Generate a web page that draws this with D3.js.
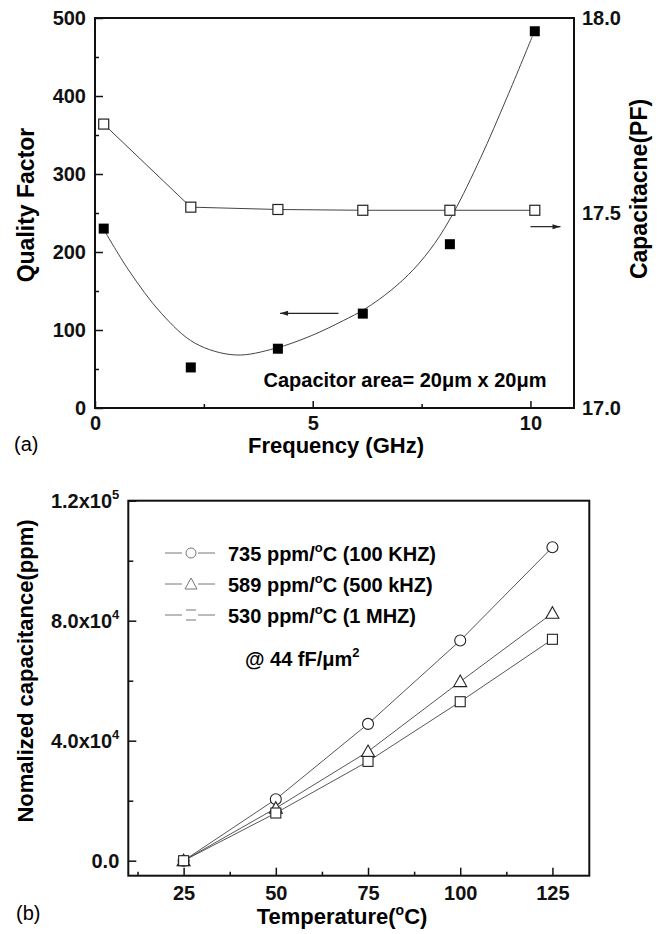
<!DOCTYPE html>
<html><head><meta charset="utf-8">
<script src="https://cdn.jsdelivr.net/npm/d3@7"></script>
<style>body{margin:0;background:#fff} text{font-family:"Liberation Sans",Arial,Helvetica,sans-serif}</style>
</head><body><svg id="c" width="659" height="934"></svg>
<script>
// ---------- Data (a) ----------
const freq = [0.2, 2.2, 4.2, 6.15, 8.15, 10.1];
const qualityFactor = [230, 52, 76, 121, 210, 483];
const capacitance = [17.728, 17.515, 17.509, 17.507, 17.507, 17.507];
// fitted curve through quality factor
const fitFreq = [0.19, 0.77, 1.53, 2.30, 3.22, 4.14, 4.98, 5.70, 6.20, 6.80, 7.32, 7.80, 8.24, 8.85, 9.46, 10.04];
const fitQ    = [230, 177, 121, 83, 68, 76.5, 93, 112, 127, 151, 178, 211, 251, 320, 398, 476];
const freqTicks = [0, 5, 10], freqMinor = [2.5, 7.5];
const qTicks = [0, 100, 200, 300, 400, 500], qMinor = [50, 150, 250, 350, 450];
const capTicks = [17.0, 17.5, 18.0];

// ---------- Data (b) ----------
const temps = [25, 50, 75, 100, 125];
const cap100k = [0, 20500, 45600, 73400, 104500];
const cap500k = [0, 17500, 36400, 59700, 82500];
const cap1M   = [0, 15900, 33100, 53000, 73800];
const tempTicks = [25, 50, 75, 100, 125], tempMinor = [12.5, 37.5, 62.5, 87.5, 112.5];
const normTicks = [0, 40000, 80000, 120000], normMinor = [20000, 60000, 100000];
const normTickMant = ["0.0", "4.0x10", "8.0x10", "1.2x10"];
const normTickExp = ["", "4", "4", "5"];
const legendPrefix = ["735 ppm/", "589 ppm/", "530 ppm/"];
const legendSuffix = ["C (100 KHZ)", "C (500 kHZ)", "C (1 MHZ)"];

const svg = d3.select("#c");
svg.append("rect").attr("width",659).attr("height",934).attr("fill","#fff");
const LINE = "#444";

function styleAxis(g, fs){
  g.select(".domain").remove();
  g.selectAll(".tick line").attr("stroke","#111").attr("stroke-width",1.5);
  g.selectAll("text").attr("font-size",fs).attr("font-weight","bold").attr("fill","#111")
   .attr("font-family",'"Liberation Sans",Arial,sans-serif');
}

// ================= Chart (a) =================
const xA = d3.scaleLinear().domain([0, 11]).range([95, 574]);
const yQ = d3.scaleLinear().domain([0, 500]).range([408, 18]);
const yC = d3.scaleLinear().domain([17, 18]).range([408, 18]);

let g;
g = svg.append("g").attr("transform","translate(0,408)")
  .call(d3.axisBottom(xA).tickValues(freqTicks).tickSize(-7).tickPadding(8).tickFormat(d3.format("d")));
styleAxis(g,20);
g = svg.append("g").attr("transform","translate(0,408)")
  .call(d3.axisBottom(xA).tickValues(freqMinor).tickSize(-4).tickFormat(""));
styleAxis(g,20);
g = svg.append("g").attr("transform","translate(95,0)")
  .call(d3.axisLeft(yQ).tickValues(qTicks).tickSize(-8).tickPadding(9).tickFormat(d3.format("d")));
styleAxis(g,20);
g = svg.append("g").attr("transform","translate(95,0)")
  .call(d3.axisLeft(yQ).tickValues(qMinor).tickSize(-4).tickFormat(""));
styleAxis(g,20);
g = svg.append("g").attr("transform","translate(574,0)")
  .call(d3.axisRight(yC).tickValues(capTicks).tickSize(0).tickPadding(8).tickFormat(d3.format(".1f")));
styleAxis(g,20);

svg.append("rect").attr("x",xA(0)).attr("y",yQ(500)).attr("width",xA(11)-xA(0)).attr("height",yQ(0)-yQ(500))
  .attr("fill","none").attr("stroke","#111").attr("stroke-width",2);

// capacitance line
svg.append("path").datum(freq.map((f,i)=>[f,capacitance[i]]))
  .attr("d", d3.line().x(d=>xA(d[0])).y(d=>yC(d[1])))
  .attr("fill","none").attr("stroke",LINE).attr("stroke-width",1);
// fit curve
svg.append("path").datum(fitFreq.map((f,i)=>[f,fitQ[i]]))
  .attr("d", d3.line().x(d=>xA(d[0])).y(d=>yQ(d[1])).curve(d3.curveCatmullRom.alpha(0.5)))
  .attr("fill","none").attr("stroke",LINE).attr("stroke-width",1);
// open squares
svg.selectAll(".cs").data(freq.map((f,i)=>[f,capacitance[i]])).enter().append("rect")
  .attr("x",d=>xA(d[0])-5).attr("y",d=>yC(d[1])-5).attr("width",10).attr("height",10)
  .attr("fill","#fff").attr("stroke","#222").attr("stroke-width",1.2);
// filled squares
svg.selectAll(".qs").data(freq.map((f,i)=>[f,qualityFactor[i]])).enter().append("rect")
  .attr("x",d=>xA(d[0])-5).attr("y",d=>yQ(d[1])-5).attr("width",10).attr("height",10)
  .attr("fill","#000");

// arrows
function arrow(x1,y1,x2,y2){
  svg.append("line").attr("x1",x1).attr("y1",y1).attr("x2",x2).attr("y2",y2).attr("stroke","#222").attr("stroke-width",1.2);
  const dir = Math.sign(x2-x1);
  svg.append("path").attr("d",`M${x2},${y2} L${x2-dir*8},${y2-2.5} L${x2-dir*8},${y2+2.5} Z`).attr("fill","#222");
}
arrow(xA(5.59), yQ(121.4), xA(4.25), yQ(121.4));
arrow(xA(10.0), yC(17.465), xA(10.69), yC(17.465));

svg.append("text").attr("x",xA(3.87)).attr("y",387).attr("font-size",20).attr("font-weight","bold")
  .text("Capacitor area= 20μm x 20μm");

// titles
svg.append("text").attr("transform","translate(34,205) rotate(-90)").attr("text-anchor","middle")
  .attr("font-size",23).attr("font-weight","bold").text("Quality Factor");
svg.append("text").attr("transform","translate(647,189) rotate(-90)").attr("text-anchor","middle")
  .attr("font-size",23).attr("font-weight","bold").text("Capacitacne(PF)");
svg.append("text").attr("x",336).attr("y",453).attr("text-anchor","middle")
  .attr("font-size",22).attr("font-weight","bold").text("Frequency (GHz)");
svg.append("text").attr("x",14).attr("y",451).attr("font-size",20).text("(a)");

// ================= Chart (b) =================
const xT = d3.scaleLinear().domain([10, 135]).range([128.3, 589.3]);
const yN = d3.scaleLinear().domain([-5000, 120000]).range([875.7, 500.7]);

g = svg.append("g").attr("transform","translate(0,875.7)")
  .call(d3.axisBottom(xT).tickValues(tempTicks).tickSize(-8).tickPadding(10).tickFormat(d3.format("d")));
styleAxis(g,20);
g = svg.append("g").attr("transform","translate(0,875.7)")
  .call(d3.axisBottom(xT).tickValues(tempMinor).tickSize(-4).tickFormat(""));
styleAxis(g,20);
g = svg.append("g").attr("transform","translate(128.3,0)")
  .call(d3.axisLeft(yN).tickValues(normTicks).tickSize(-8).tickPadding(9).tickFormat(""));
styleAxis(g,20);
g.selectAll(".tick text").each(function(d,i){
  const t = d3.select(this);
  t.append("tspan").text(normTickMant[i]);
  if (normTickExp[i]) t.append("tspan").attr("font-size",13).attr("dy",-9).text(normTickExp[i]);
});
g = svg.append("g").attr("transform","translate(128.3,0)")
  .call(d3.axisLeft(yN).tickValues(normMinor).tickSize(-5).tickFormat(""));
styleAxis(g,20);

svg.append("rect").attr("x",xT(10)).attr("y",yN(120000)).attr("width",xT(135)-xT(10)).attr("height",yN(-5000)-yN(120000))
  .attr("fill","none").attr("stroke","#111").attr("stroke-width",2);

const seriesB = [
  {vals: cap100k, shape: "circle"},
  {vals: cap500k, shape: "triangle"},
  {vals: cap1M, shape: "square"}
];
seriesB.forEach(s=>{
  svg.append("path").datum(temps.map((t,i)=>[t,s.vals[i]]))
    .attr("d", d3.line().x(d=>xT(d[0])).y(d=>yN(d[1])))
    .attr("fill","none").attr("stroke",LINE).attr("stroke-width",0.9);
});
function marker(sel, shape, x, y, col){
  if (shape==="circle") sel.append("circle").attr("cx",x).attr("cy",y).attr("r",5.5)
    .attr("fill","#fff").attr("stroke",col).attr("stroke-width",1.1);
  else if (shape==="triangle") sel.append("path").attr("d",`M${x},${y-6.5} L${x+6.5},${y+5} L${x-6.5},${y+5} Z`)
    .attr("fill","#fff").attr("stroke",col).attr("stroke-width",1.1);
  else sel.append("rect").attr("x",x-5).attr("y",y-5).attr("width",10).attr("height",10)
    .attr("fill","#fff").attr("stroke",col).attr("stroke-width",1.1);
}
seriesB.forEach(s=>{
  temps.forEach((t,i)=>marker(svg, s.shape, xT(t), yN(s.vals[i]), "#222"));
});

// legend
const legY = [553, 584, 615];
seriesB.forEach((s,i)=>{
  const y = legY[i];
  svg.append("line").attr("x1",165).attr("x2",182).attr("y1",y).attr("y2",y).attr("stroke","#777").attr("stroke-width",1);
  svg.append("line").attr("x1",198).attr("x2",215).attr("y1",y).attr("y2",y).attr("stroke","#777").attr("stroke-width",1);
  if (s.shape==="square") {
    svg.append("rect").attr("x",186).attr("y",y-5).attr("width",10).attr("height",10)
      .attr("fill","none").attr("stroke","#777").attr("stroke-width",1).attr("stroke-dasharray","10,10");
  } else {
    const gg = svg.append("g");
    if (s.shape==="circle") gg.append("circle").attr("cx",191).attr("cy",y).attr("r",5)
      .attr("fill","#fff").attr("stroke","#777").attr("stroke-width",1);
    else gg.append("path").attr("d",`M191,${y-6} L197,${y+5} L185,${y+5} Z`)
      .attr("fill","#fff").attr("stroke","#777").attr("stroke-width",1);
  }
  const t = svg.append("text").attr("x",228).attr("y",y+8).attr("font-size",20).attr("font-weight","bold");
  t.append("tspan").text(legendPrefix[i]);
  t.append("tspan").attr("font-size",13).attr("dy",-9).text("o");
  t.append("tspan").attr("dy",9).text(legendSuffix[i]);
});
const at = svg.append("text").attr("x",245).attr("y",666).attr("font-size",20).attr("font-weight","bold");
at.append("tspan").text("@ 44 fF/μm");
at.append("tspan").attr("font-size",13).attr("dy",-9).text("2");

// titles
svg.append("text").attr("transform","translate(33,671) rotate(-90)").attr("text-anchor","middle")
  .attr("font-size",22).attr("font-weight","bold").text("Nomalized capacitance(ppm)");
const tt = svg.append("text").attr("x",342).attr("y",924).attr("text-anchor","middle")
  .attr("font-size",22).attr("font-weight","bold");
tt.append("tspan").text("Temperature(");
tt.append("tspan").attr("font-size",14).attr("dy",-9).text("o");
tt.append("tspan").attr("dy",9).text("C)");
svg.append("text").attr("x",16).attr("y",920).attr("font-size",20).text("(b)");
</script></body></html>
